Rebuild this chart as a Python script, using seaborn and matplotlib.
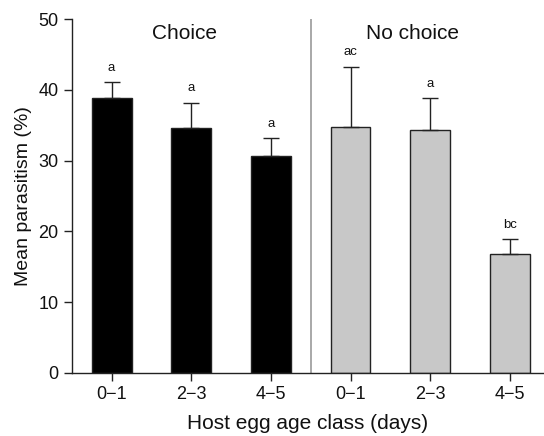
import matplotlib
matplotlib.use("Agg")
import matplotlib.pyplot as plt
import numpy as np
import pandas as pd
import seaborn as sns

# data
groups = ["Choice", "Choice", "Choice", "No choice", "No choice", "No choice"]
age_classes = ["0\u22121", "2\u22123", "4\u22125", "0\u22121", "2\u22123", "4\u22125"]
mean_parasitism = [38.8, 34.6, 30.7, 34.7, 34.3, 16.8]
upper_error = [41.1, 38.2, 33.2, 43.3, 38.8, 18.9]
letters = ["a", "a", "a", "ac", "a", "bc"]

sns.set_theme(style="ticks")
plt.rcParams["font.family"] = ["Liberation Sans", "DejaVu Sans"]
plt.rcParams["text.color"] = "#111111"
plt.rcParams["axes.labelcolor"] = "#111111"
plt.rcParams["xtick.color"] = "#222222"
plt.rcParams["ytick.color"] = "#222222"
plt.rcParams["xtick.labelcolor"] = "#111111"
plt.rcParams["ytick.labelcolor"] = "#111111"

df = pd.DataFrame({
    "group": groups,
    "age": age_classes,
    "mean": mean_parasitism,
    "cat": [f"{g} {a}" for g, a in zip(groups, age_classes)],
})

fig = plt.figure(figsize=(5.44, 4.36), dpi=100)
ax = fig.add_axes([0.132, 0.145, 0.868, 0.811])

sns.barplot(data=df, x="cat", y="mean", hue="group", order=df["cat"],
            palette={"Choice": "black", "No choice": "#c8c8c8"},
            dodge=False, width=0.5, edgecolor="#222222", linewidth=1.0,
            legend=False, ax=ax)

pos = np.arange(len(df))
err = np.array(upper_error) - np.array(mean_parasitism)
ax.errorbar(pos, mean_parasitism, yerr=[np.zeros_like(err), err], fmt="none",
            ecolor="#222222", elinewidth=1.0, capsize=6, capthick=1.0)

for x, top, lab in zip(pos, upper_error, letters):
    ax.text(x, top + 1.2, lab, ha="center", va="bottom", fontsize=9.5)

ax.axvline(2.5, color="#999999", linewidth=1.2)
ax.text(0.92, 48, "Choice", ha="center", va="center", fontsize=15)
ax.text(3.78, 48, "No choice", ha="center", va="center", fontsize=15)

ax.set_xlim(-0.5, 5.43)
ax.set_ylim(0, 50)
ax.set_yticks([0, 10, 20, 30, 40, 50])
ax.set_xticks(pos)
ax.set_xticklabels(age_classes)
ax.tick_params(labelsize=13, length=6, width=1)
ax.set_xlabel("Host egg age class (days)", fontsize=15, labelpad=8)
ax.set_ylabel("Mean parasitism (%)", fontsize=14, labelpad=5)
sns.despine(ax=ax, right=True, top=True)
for s in ["left", "bottom"]:
    ax.spines[s].set_color("#222222")
    ax.spines[s].set_linewidth(1.0)

fig.savefig("out.png", dpi=100)
